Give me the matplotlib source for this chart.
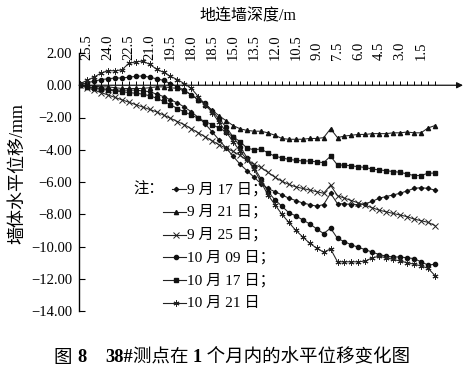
import matplotlib
matplotlib.use("Agg")
import matplotlib.pyplot as plt
from matplotlib.ticker import FuncFormatter, FixedLocator
from matplotlib.lines import Line2D
import numpy as np

# ---------------- data ----------------
depth = [26.0, 25.5, 25.0, 24.5, 24.0, 23.5, 23.0, 22.5, 22.0, 21.5, 21.0, 20.5, 20.0,
         19.5, 19.0, 18.5, 18.0, 17.5, 17.0, 16.5, 16.0, 15.5, 15.0, 14.5, 14.0, 13.5,
         13.0, 12.5, 12.0, 11.5, 11.0, 10.5, 10.0, 9.5, 9.0, 8.5, 8.0, 7.5, 7.0, 6.5,
         6.0, 5.5, 5.0, 4.5, 4.0, 3.5, 3.0, 2.5, 2.0, 1.5, 1.0, 0.5]

sep17 = [0.0, -0.1, -0.15, -0.2, -0.25, -0.3, -0.3, -0.3, -0.3, -0.35, -0.4, -0.55, -0.7,
         -0.9, -1.1, -1.35, -1.65, -2.0, -2.4, -2.9, -3.4, -3.9, -4.4, -4.9, -5.3, -5.7,
         -6.1, -6.4, -6.6, -6.8, -7.0, -7.15, -7.3, -7.4, -7.5, -7.4, -6.7, -7.35, -7.35, -7.4,
         -7.4, -7.35, -7.2, -7.0, -6.9, -6.8, -6.7, -6.55, -6.4, -6.35, -6.4, -6.5]

sep21 = [0.0, 0.0, -0.05, -0.1, -0.1, -0.15, -0.2, -0.2, -0.2, -0.2, -0.15, -0.1, -0.1,
         -0.15, -0.2, -0.35, -0.6, -0.9, -1.2, -1.55, -1.9, -2.2, -2.5, -2.7, -2.8, -2.85,
         -2.85, -2.95, -3.1, -3.3, -3.35, -3.35, -3.35, -3.3, -3.3, -3.25, -2.7, -3.25, -3.15, -3.1,
         -3.05, -3.05, -3.0, -3.0, -3.0, -2.95, -2.95, -2.9, -2.95, -2.95, -2.65, -2.5]

sep25 = [0.0, -0.15, -0.3, -0.45, -0.6, -0.75, -0.9, -1.05, -1.2, -1.35, -1.5, -1.65, -1.85,
         -2.05, -2.25, -2.45, -2.7, -2.95, -3.2, -3.45, -3.7, -3.9, -4.1, -4.35, -4.65, -4.9,
         -5.1, -5.4, -5.7, -5.95, -6.15, -6.3, -6.4, -6.5, -6.6, -6.7, -6.2, -6.85, -7.0, -7.15,
         -7.3, -7.45, -7.6, -7.75, -7.85, -7.95, -8.05, -8.15, -8.3, -8.4, -8.5, -8.7]

oct09 = [0.05, 0.15, 0.25, 0.35, 0.4, 0.45, 0.45, 0.5, 0.55, 0.58, 0.5, 0.4, 0.3,
         0.1, -0.1, -0.3, -0.6, -0.9, -1.1, -1.6, -2.1, -2.6, -3.2, -3.8, -4.5, -5.1,
         -5.8, -6.6, -7.1, -7.5, -7.9, -8.1, -8.35, -8.6, -8.9, -9.2, -8.86, -9.5, -9.7, -9.9,
         -10.05, -10.2, -10.35, -10.5, -10.6, -10.65, -10.65, -10.7, -10.75, -10.95, -11.15, -11.1]

oct17 = [0.0, -0.1, -0.2, -0.25, -0.3, -0.35, -0.4, -0.45, -0.5, -0.55, -0.65, -0.8, -1.0,
         -1.2, -1.45, -1.65, -1.85, -2.05, -2.25, -2.45, -2.65, -2.9, -3.2, -3.5, -3.9, -4.0,
         -3.95, -4.2, -4.4, -4.5, -4.6, -4.65, -4.7, -4.7, -4.75, -4.8, -4.4, -4.95, -4.95, -5.0,
         -5.05, -5.1, -5.2, -5.25, -5.3, -5.35, -5.4, -5.5, -5.6, -5.6, -5.45, -5.45]

oct21 = [0.1, 0.3, 0.5, 0.75, 0.9, 0.9, 0.95, 1.35, 1.45, 1.5, 1.3, 1.0, 0.8,
         0.55, 0.35, 0.1, -0.2, -0.7, -1.2, -1.7, -2.3, -2.9, -3.5, -4.1, -4.6, -5.2,
         -6.0, -6.8, -7.4, -8.0, -8.5, -9.0, -9.4, -9.8, -10.1, -10.35, -10.15, -10.95, -10.95, -10.95,
         -10.95, -10.9, -10.7, -10.6, -10.7, -10.8, -10.9, -11.0, -11.1, -11.2, -11.35, -11.8]

series_labels = ["9 月 17 日；", "9 月 21 日；", "9 月 25 日；", "10 月 09 日；", "10 月 17 日；", "10 月 21 日"]
series_values = [sep17, sep21, sep25, oct09, oct17, oct21]

xtick_pos = [25.5, 24.0, 22.5, 21.0, 19.5, 18.0, 16.5, 15.0, 13.5, 12.0, 10.5, 9.0, 7.5, 6.0, 4.5, 3.0, 1.5]
xtick_text = ["25.5", "24.0", "22.5", "21.0", "19.5", "18.0", "18.5", "15.0", "13.5", "12.0", "10.5",
              "9.0", "7.5", "6.0", "4.5", "3.0", "1.5"]
yticks = [2, 0, -2, -4, -6, -8, -10, -12, -14]

# ---------------- style ----------------
W, H = 471, 371
SERIF = ["Liberation Serif", "Noto Sans CJK SC"]
plt.rcParams['font.family'] = SERIF
plt.rcParams['axes.unicode_minus'] = True

styles = [
    dict(marker='D', ms=2.2, mfc='#111', mec='#111'),
    dict(marker='^', ms=3.0, mfc='#111', mec='#111'),
    dict(marker='x', ms=3.8, mew=0.7, mec='#222'),
    dict(marker='o', ms=3.0, mfc='#111', mec='#111'),
    dict(marker='s', ms=2.6, mfc='#111', mec='#111'),
    dict(marker=(6, 2, 0), ms=4.3, mew=0.7, mec='#222'),
]

fig = plt.figure(figsize=(W / 100, H / 100), dpi=100)

def fx(px):
    return px / W

def fy(py):
    return 1 - py / H

left_px, right_px, top_px, bot_px = 79, 463, 53, 311
ax = fig.add_axes([fx(left_px), fy(bot_px), (right_px - left_px) / W, (bot_px - top_px) / H])

pxm = 13.92  # pixels per metre
x_left = 26.0 + (80 - left_px) / pxm
x_right = 26.0 - (right_px - 80) / pxm
ax.set_xlim(x_left, x_right)
ax.set_ylim(-14, 2)

for vals, st in zip(series_values, styles):
    ax.plot(depth, vals, color='#222', lw=0.75, **st)

# spines
for s in ['top', 'right']:
    ax.spines[s].set_visible(False)
ax.spines['bottom'].set_position(('data', 0))
ax.spines['bottom'].set_visible(False)
ax.spines['left'].set_linewidth(1.0)
ax.annotate('', xy=(x_right, 0), xytext=(x_left, 0),
            arrowprops=dict(arrowstyle='-|>', color='#111', lw=0.9,
                            mutation_scale=9, shrinkA=0, shrinkB=0))

# x ticks on the zero line (every 0.5 m)
ax.xaxis.set_major_locator(FixedLocator(depth))
ax.tick_params(axis='x', which='major', direction='in', length=3, width=0.7,
               labelbottom=False, bottom=True, top=False)

# depth labels along the top
sec = ax.secondary_xaxis('top')
sec.set_xticks(xtick_pos, labels=xtick_text)
sec.tick_params(length=0, pad=-5, labelrotation=90, labelsize=10.5)
sec.spines['top'].set_visible(False)

# y axis
ax.set_yticks(yticks)
ax.yaxis.set_major_formatter(FuncFormatter(lambda v, p: f"{v:.2f}".replace('-', '\u2212')))
ax.tick_params(axis='y', direction='in', length=4, width=0.8, labelsize=10.5, pad=5)

# titles
fig.text(fx(248), fy(16), "地连墙深度/m", ha='center', va='center', fontsize=11.5, family=SERIF)
fig.text(fx(18), fy(173), "墙体水平位移/mm", ha='center', va='center', rotation=90,
         fontsize=13, family=SERIF)

# legend (drawn manually)
fig.text(fx(133), fy(190), "注：", ha='left', va='center', fontsize=11, family=SERIF)
row_y0, row_dy = 189, 22.8
for i, (lab, st) in enumerate(zip(series_labels, styles)):
    yy = row_y0 + i * row_dy
    x0 = 172 if i == 0 else 163
    x1 = 186
    fig.add_artist(Line2D([fx(x0), fx(x1)], [fy(yy), fy(yy)], transform=fig.transFigure,
                          color='#222', lw=0.8))
    fig.add_artist(Line2D([fx((163 + x1) / 2 + 1)], [fy(yy)], transform=fig.transFigure,
                          color='#222', lw=0, **st))
    fig.text(fx(187), fy(yy), lab, ha='left', va='center', fontsize=11, family=SERIF)

# caption with bold numerals
pieces = [("图 ", "normal"), ("8", "bold"), ("    ", "normal"), ("38#", "bold"),
          ("测点在 ", "normal"), ("1", "bold"), (" 个月内的水平位移变化图", "normal")]
fig.canvas.draw()
renderer = fig.canvas.get_renderer()
texts = []
total = 0
for s, w in pieces:
    t = fig.text(0, fy(358), s, ha='left', va='center', fontsize=13.3, weight=w, family=SERIF)
    bb = t.get_window_extent(renderer)
    texts.append((t, bb.width))
    total += bb.width
start = 232 - total / 2
cur = start
for t, wdt in texts:
    t.set_x(fx(cur))
    cur += wdt

fig.savefig("out.png", dpi=100)
